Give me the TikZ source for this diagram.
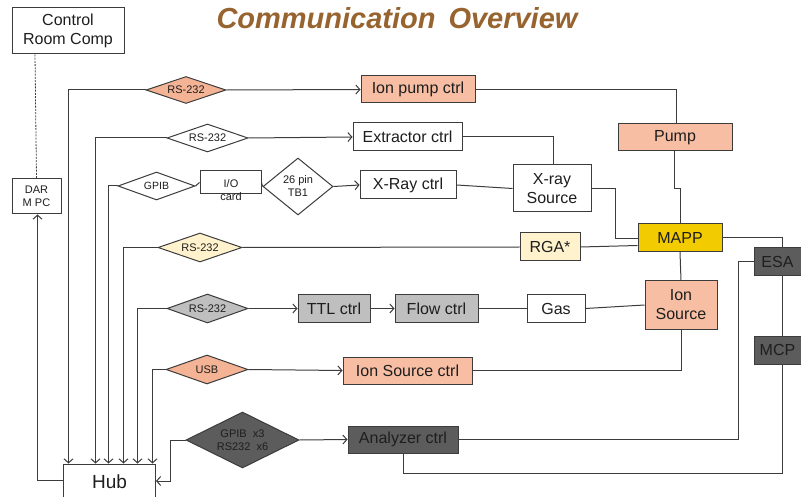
\documentclass[tikz,border=0pt]{standalone}
\usepackage{fontspec}
\setmainfont{Liberation Sans}
\usetikzlibrary{shapes.geometric,arrows.meta}

\definecolor{lineclr}{HTML}{3C3C3C}
\definecolor{txtclr}{HTML}{1E1E1E}
\definecolor{salmon}{HTML}{F7BEA3}
\definecolor{salmondk}{HTML}{F4B394}
\definecolor{cream}{HTML}{FFF2CC}
\definecolor{gold}{HTML}{F2CB00}
\definecolor{midgray}{HTML}{BFBFBF}
\definecolor{darkgray}{HTML}{5C5C5C}
\definecolor{titlebrown}{HTML}{97632F}

\tikzset{
  box/.style={draw=lineclr, line width=1pt, fill=white, inner sep=0pt,
    text=txtclr, font=\fontsize{16}{19}\selectfont, align=center},
  dia/.style={draw=lineclr, line width=1pt, fill=white, shape=diamond,
    inner sep=0pt, text=txtclr, font=\fontsize{11}{13}\selectfont, align=center},
  wire/.style={draw=lineclr, line width=1pt},
  feed/.style={wire, -{Straight Barb[length=4pt,width=9pt]}},
}

\newcommand{\bx}[6][]{\node[box,#1,minimum width=#4,minimum height=#5] (#2) at #3 {#6};}
\newcommand{\dm}[6][]{\pgfmathsetmacro\dmasp{#4/#5}%
  \node[dia,#1,minimum width=#4,minimum height=#5,shape aspect=\dmasp] (#2) at #3 {#6};}

\begin{document}
\begin{tikzpicture}[x=1pt,y=-1pt]
\useasboundingbox (0,0) rectangle (801,497);

% title
\node[text=titlebrown, font=\fontsize{29}{33}\selectfont\bfseries\itshape] (title) at (397,18) {Communication\, Overview};

% computers and hub
\bx{ctrlroom}{(68,31)}{112}{46}{Control\\Room Comp}
\bx[font=\fontsize{11}{13}\selectfont]{dar}{(36.5,196.5)}{49}{35}{DAR\\M PC}
\bx[font=\fontsize{19}{22}\selectfont]{hub}{(109.5,482)}{92}{36}{Hub}

% row 1: ion pump
\dm[fill=salmondk]{dA}{(186,90)}{80}{27}{RS-232}
\bx[fill=salmon]{ionpump}{(418,89.5)}{114}{27}{Ion pump ctrl}
\bx[fill=salmon]{pump}{(675,137.5)}{114}{27}{Pump}

% row 2: extractor
\dm{dB}{(207.5,138)}{81}{28}{RS-232}
\bx{extractor}{(407.5,137)}{109}{28}{Extractor ctrl}

% row 3: x-ray
\dm[font=\fontsize{10.5}{12}\selectfont]{gpib}{(156.5,186)}{77}{28}{GPIB}
\bx{iocard}{(230.5,182.5)}{61}{23}{}
\node[text=txtclr, font=\fontsize{11}{13}\selectfont, align=center] (iotext) at (231,190) {I/O\\card};
\dm{tb}{(298,186.5)}{70}{57}{26 pin\\TB1}
\bx{xrayctrl}{(408,185)}{96}{28}{X-Ray ctrl}
\bx{xraysrc}{(552,188.5)}{78}{47}{X-ray\\Source}

% MAPP and analyzer
\bx[fill=gold]{mapp}{(680,237.5)}{84}{28}{MAPP}
\bx[fill=darkgray]{esa}{(777.5,262)}{47}{28}{ESA}
\bx[fill=darkgray]{mcp}{(777.5,350)}{47}{28}{MCP}

% row 4: RGA
\dm[fill=cream]{dD}{(200,247.5)}{84}{29}{RS-232}
\bx[fill=cream]{rga}{(550,247)}{60}{28}{RGA*}

% row 5: gas handling
\dm[fill=midgray]{dE}{(207.5,308.5)}{81}{29}{RS-232}
\bx[fill=midgray]{ttl}{(334,308.5)}{72}{27}{TTL ctrl}
\bx[fill=midgray]{flow}{(436.5,308.5)}{83}{27}{Flow ctrl}
\bx{gas}{(556,308.5)}{58}{27}{Gas}
\bx[fill=salmon]{ionsrc}{(681,305)}{72}{48}{Ion\\Source}

% row 6: ion source control
\dm[fill=salmondk]{usb}{(207,369.5)}{82}{29}{USB}
\bx[fill=salmon]{ionsrcctrl}{(407.5,370.5)}{129}{27}{Ion Source ctrl}

% row 7: analyzer
\dm[fill=darkgray]{dG}{(242.5,440)}{113}{56}{GPIB\ \ x3\\RS232\ \ x6}
\bx[fill=darkgray]{analyzer}{(403,439.5)}{110}{27}{Analyzer ctrl}

% links to hub
\draw[feed] (dA.west) -| ([xshift=5.5pt]hub.north west);
\draw[feed] (dB.west) -| ([xshift=32.5pt]hub.north west);
\draw[feed] (gpib.west) -| ([xshift=45.5pt]hub.north west);
\draw[feed] (dD.west) -| ([xshift=60.5pt]hub.north west);
\draw[feed] (dE.west) -| ([xshift=74.5pt]hub.north west);
\draw[feed] (usb.west) -| ([xshift=89.5pt]hub.north west);
\draw[feed] (dG.west) -- ++(-15,0) |- ([yshift=1pt]hub.east);
\draw[feed] ([yshift=2pt]hub.west) -| ([xshift=1pt]dar.south);
\draw[wire, line width=0.8pt, dash pattern=on 2pt off 1.2pt] (ctrlroom.south -| 35,0) -- (dar.north);

% links from interfaces to controllers
\draw[feed] (dA.east) -- (ionpump.west);
\draw[feed] (dB.east) -- (extractor.west);
\draw[wire] (gpib.east) -- (iocard.west);
\draw[wire] (iocard.east) -- (tb.west);
\draw[feed] (tb.east) -- (xrayctrl.west);
\draw[wire] (dD.east) -- (rga.west);
\draw[feed] (dE.east) -- (ttl.west);
\draw[feed] (ttl.east) -- (flow.west);
\draw[feed] (usb.east) -- (ionsrcctrl.west);
\draw[feed] (dG.east) -- (analyzer.west);

% hardware links
\draw[wire] (ionpump.east) -| ([xshift=1pt]pump.north);
\draw[wire] ([xshift=-1pt]pump.south) -- ++(0,37) -| (mapp.north);
\draw[wire] (extractor.east) -| ([xshift=1pt]xraysrc.north);
\draw[wire] (xrayctrl.east) -- (xraysrc.west);
\draw[wire] (xraysrc.east) -- ++(24,0) |- ([yshift=-1pt]mapp.west);
\draw[wire] (rga.east) -- ([yshift=-8pt]mapp.west);
\draw[wire] (mapp.east) -| ([xshift=4.5pt]esa.north);
\draw[wire] (mapp.south) -- (ionsrc.north);
\draw[wire] ([xshift=4.5pt]esa.south) -- ([xshift=4.5pt]mcp.north);
\draw[wire] (esa.west) -- ++(-15,0) |- (analyzer.east);
\draw[wire] ([xshift=4.5pt]mcp.south) -- ++(0,109) -| (analyzer.south);
\draw[wire] (flow.east) -- (gas.west);
\draw[wire] (gas.east) -- (ionsrc.west);
\draw[wire] (ionsrc.south) |- (ionsrcctrl.east);
\end{tikzpicture}
\end{document}
